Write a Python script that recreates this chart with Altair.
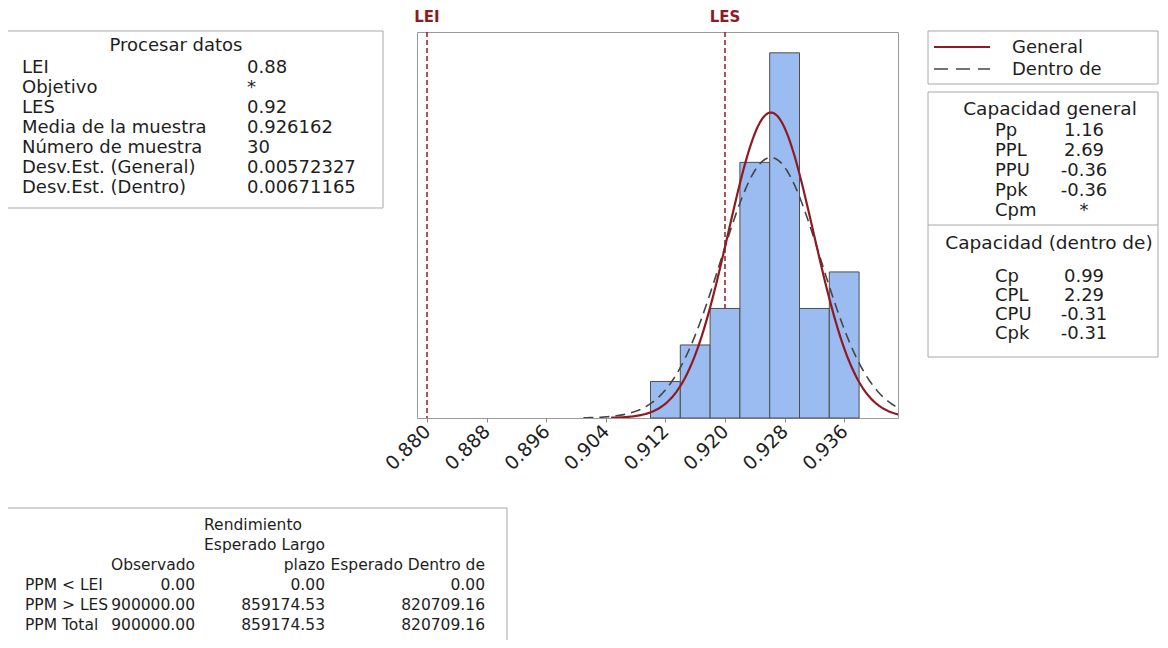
import altair as alt
import pandas as pd

FONT = "DejaVu Sans"
TXT = "#1e1e1e"
RED = "#8E1B24"
BOXC = "#a8a8a8"

# ---------------- data ----------------
bin_start = [0.910, 0.914, 0.918, 0.922, 0.926, 0.930, 0.934]
bin_end = [0.914, 0.918, 0.922, 0.926, 0.930, 0.934, 0.938]
counts = [1, 2, 3, 7, 10, 3, 4]

spec_names = ["LEI", "LES"]
spec_values = [0.88, 0.92]

mean = 0.926162
sd_overall = 0.00572327
sd_within = 0.00671165
n_obs = 30
bin_width = 0.004

tick_values = [0.880, 0.884, 0.888, 0.892, 0.896, 0.900, 0.904, 0.908, 0.912,
               0.916, 0.920, 0.924, 0.928, 0.932, 0.936, 0.940]
tick_labels = ["0.880", "0.888", "0.896", "0.904", "0.912", "0.920", "0.928", "0.936"]

proc_title = "Procesar datos"
proc_labels = ["LEI", "Objetivo", "LES", "Media de la muestra", "Número de muestra",
               "Desv.Est. (General)", "Desv.Est. (Dentro)"]
proc_values = ["0.88", "*", "0.92", "0.926162", "30", "0.00572327", "0.00671165"]

legend_labels = ["General", "Dentro de"]

cap_gen_title = "Capacidad general"
cap_gen_labels = ["Pp", "PPL", "PPU", "Ppk", "Cpm"]
cap_gen_values = ["1.16", "2.69", "-0.36", "-0.36", "*"]
cap_in_title = "Capacidad (dentro de)"
cap_in_labels = ["Cp", "CPL", "CPU", "Cpk"]
cap_in_values = ["0.99", "2.29", "-0.31", "-0.31"]

perf_title = "Rendimiento"
perf_rows = ["PPM < LEI", "PPM > LES", "PPM Total"]
perf_obs_head = ["Observado"]
perf_obs = ["0.00", "900000.00", "900000.00"]
perf_lt_head = ["Esperado Largo", "plazo"]
perf_lt = ["0.00", "859174.53", "859174.53"]
perf_in_head = ["Esperado Dentro de"]
perf_in = ["0.00", "820709.16", "820709.16"]

# ---------------- layout ----------------
OX, OY = 417, 32          # page position of plot area
W, H = 481, 386
X_DOMAIN = [0.878658, 0.943221]
Y_DOMAIN = [0, 10.57]

xs = alt.Scale(domain=X_DOMAIN, nice=False, zero=False)
ys = alt.Scale(domain=Y_DOMAIN, nice=False, zero=True)

one = pd.DataFrame({"k": [0]})


def px(x):
    return x - OX


def py(y):
    return y - OY


def text_block(lines, x, yc, align="left", size=18, lh=20, color=TXT, weight="normal"):
    ytop = yc - 0.43 * size
    return alt.Chart(one).mark_text(
        text=lines, align=align, baseline="top", lineHeight=lh, fontSize=size,
        font=FONT, color=color, fontWeight=weight
    ).encode(x=alt.value(px(x)), y=alt.value(py(ytop)))


def box(x1, y1, x2, y2):
    return alt.Chart(one).mark_rect(fillOpacity=0, stroke=BOXC, strokeWidth=1).encode(
        x=alt.value(px(x1)), x2=alt.value(px(x2)), y=alt.value(py(y1)), y2=alt.value(py(y2)))


def hline(x1, x2, y, color=BOXC, width=1, dash=None):
    kw = dict(color=color, strokeWidth=width)
    if dash:
        kw["strokeDash"] = dash
    return alt.Chart(one).mark_rule(**kw).encode(
        x=alt.value(px(x1)), x2=alt.value(px(x2)), y=alt.value(py(y)))


# ---------------- plot layers ----------------
hist_df = pd.DataFrame({"start": bin_start, "end": bin_end, "count": counts})
spec_df = pd.DataFrame({"name": spec_names, "v": spec_values})

label_list = "[" + ",".join("'%s'" % t for t in tick_labels) + "]"
x_axis = alt.Axis(
    values=tick_values,
    labelExpr="indexof(%s, format(datum.value, '.3f')) >= 0 ? format(datum.value, '.3f') : ''" % label_list,
    labelAngle=-45, labelAlign="right", labelBaseline="middle", labelPadding=6,
    labelFont=FONT, labelFontSize=19, labelColor=TXT, tickColor="#888888", tickSize=4,
    domain=False, grid=False, title=None, labelOverlap=False, labelBound=False)

spec_rules = alt.Chart(spec_df).mark_rule(color=RED, strokeDash=[5, 3], strokeWidth=1.5).encode(
    x=alt.X("v:Q", scale=xs, axis=x_axis))
spec_text = alt.Chart(spec_df).mark_text(color=RED, font=FONT, fontSize=15, fontWeight="bold",
                                         baseline="middle").encode(
    x=alt.X("v:Q", scale=xs), y=alt.value(-15), text="name:N")

bars = alt.Chart(hist_df).mark_rect(color="#9ABCF0", stroke="#4d4d4d", strokeWidth=1).encode(
    x=alt.X("start:Q", scale=xs), x2="end:Q",
    y=alt.Y("count:Q", scale=ys, axis=None), y2=alt.datum(0))


def normal_curve(sd, color, width, dash=None):
    kw = dict(color=color, strokeWidth=width, clip=True)
    if dash:
        kw["strokeDash"] = dash
    expr = "%f * exp(-0.5 * pow((datum.x - %f) / %f, 2)) / (%f * sqrt(2 * PI))" % (
        n_obs * bin_width, mean, sd, sd)
    return alt.Chart(alt.sequence(start=mean - 3.75 * sd, stop=X_DOMAIN[1] + 0.002, step=0.0002, as_="x")
                     ).transform_calculate(d=expr).mark_line(**kw).encode(
        x=alt.X("x:Q", scale=xs), y=alt.Y("d:Q", scale=ys))


curve_within = normal_curve(sd_within, "#454545", 1.6, [10, 6])
curve_overall = normal_curve(sd_overall, RED, 2.2)

# ---------------- tables ----------------
layers = [spec_rules, bars, curve_within, curve_overall, spec_text]

# left box
layers += [box(5, 31, 383, 208),
           text_block([proc_title], 176, 45, align="center"),
           text_block(proc_labels, 22, 67),
           text_block(proc_values, 247, 67)]

# legend box
layers += [box(928, 31, 1158, 84),
           hline(934, 990, 47, color=RED, width=2),
           hline(934, 990, 69, color="#454545", width=1.6, dash=[14, 8]),
           text_block(legend_labels, 1012, 47, lh=22)]

# capability box
layers += [box(928, 92, 1158, 357),
           text_block([cap_gen_title], 1050, 108, align="center", size=18.5),
           text_block(cap_gen_labels, 995, 130),
           text_block(cap_gen_values, 1084, 130, align="center"),
           hline(928, 1158, 225),
           text_block([cap_in_title], 1049, 242, align="center", size=18.5),
           text_block(cap_in_labels, 995, 276, lh=19),
           text_block(cap_in_values, 1084, 276, align="center", lh=19)]

# performance box (bottom edge falls below the picture)
layers += [box(5, 508, 507, 660),
           text_block([perf_title], 253, 525, align="center", size=15.5),
           text_block(perf_lt_head, 325, 545, align="right", size=15.5),
           text_block(perf_obs_head, 195, 565, align="right", size=15.5),
           text_block(perf_in_head, 485, 565, align="right", size=15.5),
           text_block(perf_rows, 25, 585, size=15.5),
           text_block(perf_obs, 195, 585, align="right", size=15.5),
           text_block(perf_lt, 325, 585, align="right", size=15.5),
           text_block(perf_in, 485, 585, align="right", size=15.5)]

chart = alt.layer(*layers).properties(
    width=W, height=H,
    autosize=alt.AutoSizeParams(type="none"),
    padding={"left": OX - 8, "top": OY - 8, "right": 1152 - (OX - 8) - W, "bottom": 632 - (OY - 8) - H},
    background="white",
).configure_view(stroke="#9a9a9a", strokeWidth=1)

chart.save("out.html", embed_options={"renderer": "svg", "actions": False})
